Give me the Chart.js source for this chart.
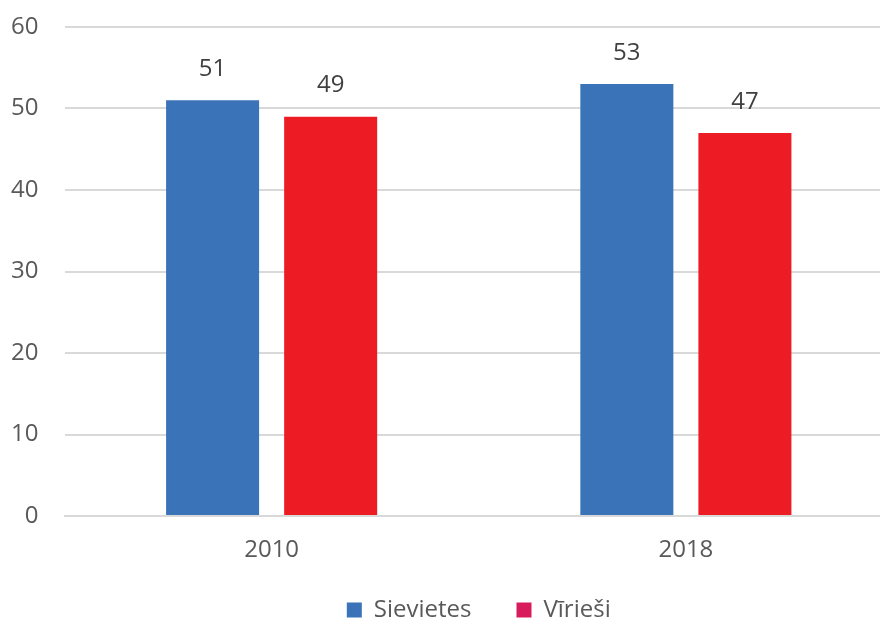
<!DOCTYPE html>
<html>
<head>
<meta charset="utf-8">
<script src="https://cdn.jsdelivr.net/npm/chart.js@4"></script>
<style>
  html, body { margin: 0; padding: 0; background: #fff; overflow: hidden; }
  #wrap { width: 893px; height: 623px; position: relative; }
</style>
</head>
<body>
<div id="wrap"><canvas id="genderChart"></canvas></div>
<script>
// Dzimumu sadalījums, %
const YEARS = ['2010', '2018'];
const SIEVIETES = [51, 53];
const VIRIESI = [49, 47];
const Y_TICKS = [0, 10, 20, 30, 40, 50, 60];
const LEGEND_COLORS = ['#3B73B9', '#D81B5C'];

const C_BLUE = '#3B73B9';
const C_RED = '#ED1C24';
const FONT = '"Open Sans", "DejaVu Sans", sans-serif';
const FS = 24;

// vērtības virs stabiņiem
const valueLabels = {
    id: 'valueLabels',
    afterDatasetsDraw(chart) {
        const ctx = chart.ctx;
        ctx.save();
        ctx.font = `${FS}px ${FONT}`;
        ctx.fillStyle = '#404040';
        ctx.textAlign = 'center';
        ctx.textBaseline = 'middle';
        chart.data.datasets.forEach((ds, i) => {
            chart.getDatasetMeta(i).data.forEach((bar, j) => {
                ctx.fillText(String(ds.data[j]), bar.x, bar.y - 31);
            });
        });
        ctx.restore();
    },
};

// leģenda zem grafika: kvadrātiņš + nosaukums, centrēta pret zīmēšanas laukumu
const bottomLegend = {
    id: 'bottomLegend',
    afterDraw(chart) {
        const ctx = chart.ctx;
        const box = 15, gapText = 12, gapItem = 45;
        const y = chart.height - 13;
        ctx.save();
        ctx.font = `${FS}px ${FONT}`;
        const items = chart.data.datasets.map((ds, i) => ({
            text: ds.label, color: LEGEND_COLORS[i], w: box + gapText + ctx.measureText(ds.label).width,
        }));
        const total = items.reduce((s, it) => s + it.w, 0) + gapItem * (items.length - 1);
        const area = chart.chartArea;
        let x = (area.left + area.right) / 2 - total / 2;
        ctx.textAlign = 'left';
        ctx.textBaseline = 'middle';
        items.forEach(it => {
            ctx.fillStyle = it.color;
            ctx.fillRect(x, y - box / 2, box, box);
            ctx.fillStyle = '#595959';
            ctx.fillText(it.text, x + box + gapText, y);
            x += it.w + gapItem;
        });
        ctx.restore();
    },
};

new Chart(document.getElementById('genderChart'), {
    type: 'bar',
    data: {
        labels: YEARS,
        datasets: [
            { label: 'Sievietes', data: SIEVIETES, backgroundColor: C_BLUE },
            { label: 'Vīrieši', data: VIRIESI, backgroundColor: C_RED },
        ],
    },
    options: {
        responsive: true,
        maintainAspectRatio: false,
        animation: false,
        categoryPercentage: 0.57,
        barPercentage: 0.788,
        layout: { padding: { top: 27, left: 0, right: 0, bottom: 37 } },
        plugins: {
            legend: { display: false },
            tooltip: { enabled: false },
        },
        scales: {
            x: {
                afterFit: (scale) => { scale.height = 70; scale.paddingLeft = 0; scale.paddingRight = 0; },
                grid: { display: false, drawTicks: false },
                border: { color: '#D9D9D9', width: 2 },
                ticks: { color: '#595959', padding: 20, font: { family: FONT, size: FS } },
            },
            y: {
                min: 0,
                max: 60,
                afterBuildTicks: (scale) => { scale.ticks = Y_TICKS.map(v => ({ value: v })); },
                afterFit: (scale) => { scale.width = 64.5; scale.paddingTop = 0; scale.paddingBottom = 0; },
                grid: { color: '#D9D9D9', lineWidth: 2, drawTicks: false },
                border: { display: false },
                ticks: { color: '#595959', padding: 26, font: { family: FONT, size: FS } },
            },
        },
    },
    plugins: [valueLabels, bottomLegend],
});
</script>
</body>
</html>
